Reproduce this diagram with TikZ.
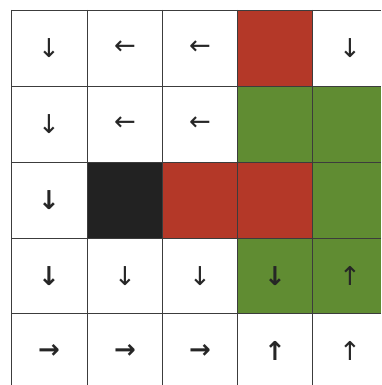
\documentclass[tikz,border=0pt]{standalone}
\usepackage{fontspec}
\newfontfamily\arrowfont{DejaVu Sans}
\definecolor{cellred}{RGB}{180,56,40}
\definecolor{cellgreen}{RGB}{96,140,50}
\definecolor{cellblack}{RGB}{34,34,34}
\definecolor{gridgray}{RGB}{60,60,60}
\begin{document}
\begin{tikzpicture}[x=1pt,y=-1pt,
  gridline/.style={draw=gridgray,line width=0.8pt},
  thinarrow/.style={font=\arrowfont\fontsize{26}{26}\selectfont,text=black!85,inner sep=0pt},
  boldarrow/.style={font=\arrowfont\bfseries\fontsize{26}{26}\selectfont,text=black!85,inner sep=0pt}]
\useasboundingbox (0,0) rectangle (381,385);
\fill[white] (0,0) rectangle (381,385);
% coloured cells
\fill[cellred] (237.5,10) rectangle (312.5,86);
\fill[cellgreen] (237.5,86) rectangle (381,162);
\fill[cellblack] (87,162) rectangle (162.5,238);
\fill[cellred] (162.5,162) rectangle (312.5,238);
\fill[cellgreen] (312.5,162) rectangle (381,238);
\fill[cellgreen] (237.5,238) rectangle (381,313.5);
% grid
\foreach \x in {11,87,162.5,237.5,312.5} \draw[gridline] (\x,10) -- (\x,385);
\foreach \y in {10,86,162,238,313.5} \draw[gridline] (11,\y) -- (381,\y);
% arrows
\node[thinarrow] (a11) at (49,48) {↓};
\node[thinarrow] (a12) at (125,48) {←};
\node[thinarrow] (a13) at (200,48) {←};
\node[thinarrow] (a15) at (350,48) {↓};
\node[thinarrow] (a21) at (49,124) {↓};
\node[thinarrow] (a22) at (125,124) {←};
\node[thinarrow] (a23) at (200,124) {←};
\node[boldarrow] (a31) at (49,200) {↓};
\node[boldarrow] (a41) at (49,276) {↓};
\node[thinarrow] (a42) at (125,276) {↓};
\node[thinarrow] (a43) at (200,276) {↓};
\node[boldarrow] (a44) at (275,276) {↓};
\node[thinarrow] (a45) at (350,276) {↑};
\node[boldarrow] (a51) at (49,351) {→};
\node[boldarrow] (a52) at (125,351) {→};
\node[boldarrow] (a53) at (200,351) {→};
\node[boldarrow] (a54) at (275,351) {↑};
\node[thinarrow] (a55) at (350,351) {↑};
\end{tikzpicture}
\end{document}
